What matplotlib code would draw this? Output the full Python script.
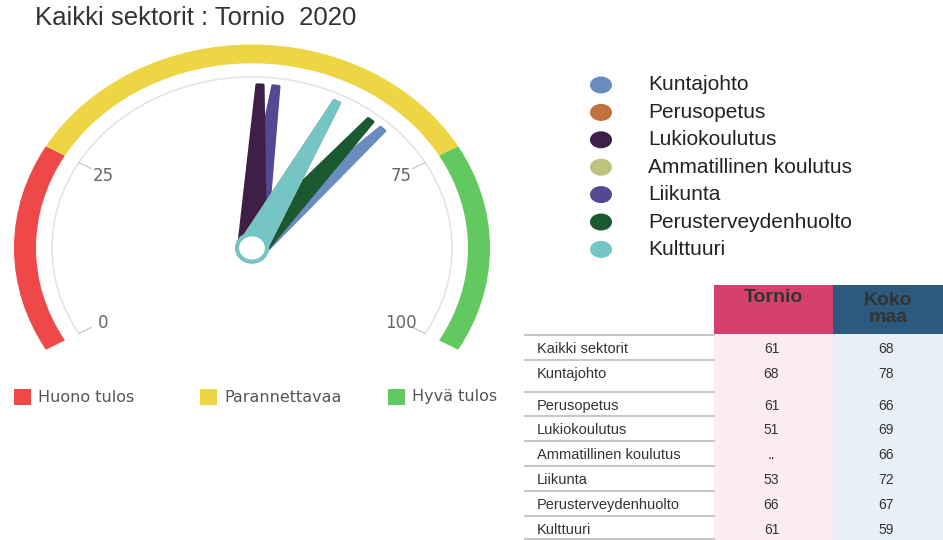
import numpy as np
import matplotlib.pyplot as plt
from matplotlib.patches import Wedge, Polygon, Ellipse, Rectangle, Arc

# Data
sectors = ["Kuntajohto", "Perusopetus", "Lukiokoulutus", "Ammatillinen koulutus",
           "Liikunta", "Perusterveydenhuolto", "Kulttuuri"]
tornio = [68, 61, 51, None, 53, 66, 61]
koko_maa = [78, 66, 69, 66, 72, 67, 59]
all_label = "Kaikki sektorit"
all_tornio = 61
all_koko = 68
colors = ["#6b8cbf", "#c0713d", "#3e1f48", "#bcc47e", "#554893", "#1b5a30", "#74c5c3"]

bands = [(0, 25, "#ef4848", "Huono tulos"),
         (25, 75, "#eed544", "Parannettavaa"),
         (75, 100, "#62c960", "Hyvä tulos")]
tick_values = [0, 25, 75, 100]

W, H = 943, 540
fig = plt.figure(figsize=(W / 100, H / 100), dpi=100)


def val2ang(v):
    # 0 -> 210 deg, 100 -> -30 deg
    return 210 - 2.4 * v


# gauge axes: 200 px per unit horizontally, 171 px per unit vertically
cx, cy, sx, sy = 252, 248, 200, 171
x0, x1, y0, y1 = -1.25, 1.25, -0.6, 1.25
gax = fig.add_axes([(cx + x0 * sx) / W, 1 - (cy - y0 * sy) / H,
                    (x1 - x0) * sx / W, (y1 - y0) * sy / H])
gax.set_xlim(x0, x1)
gax.set_ylim(y0, y1)
gax.axis('off')

# colour bands
for lo, hi, c, _ in bands:
    gax.add_patch(Wedge((0, 0), 1.19, val2ang(hi), val2ang(lo), width=0.11,
                        facecolor=c, edgecolor='none'))

# thin gray scale arc
gax.add_patch(Arc((0, 0), 2.0, 2.0, theta1=val2ang(100), theta2=val2ang(0),
                  color='#e4e4e4', lw=1.2))
for v in tick_values:
    a = np.radians(val2ang(v))
    gax.plot([0.93 * np.cos(a), 1.0 * np.cos(a)], [0.93 * np.sin(a), 1.0 * np.sin(a)],
             color='#cccccc', lw=1)
    gax.text(0.86 * np.cos(a), 0.86 * np.sin(a) - 0.01, str(v), ha='center', va='center',
             fontsize=12, color='#666666', family='DejaVu Sans')

# needles (back to front)
draw_order = [0, 5, 4, 2, 1, 6]
for i in draw_order:
    v, c = tornio[i], colors[i]
    if v is None:
        continue
    a = np.radians(val2ang(v))
    ux, uy = np.cos(a), np.sin(a)
    px, py = -uy, ux
    L, bw, tw = 0.955, 0.068, 0.016
    pts = [(bw * px, bw * py), (L * ux + tw * px, L * uy + tw * py),
           (L * ux - tw * px, L * uy - tw * py), (-bw * px, -bw * py)]
    gax.add_patch(Polygon(pts, closed=True, facecolor=c, edgecolor=c, lw=2,
                          joinstyle='round'))

gax.add_patch(Ellipse((0, 0), 0.15, 0.16, facecolor='white', edgecolor=colors[-1], lw=3))

# overlay axes in pixel coordinates for title, legends and table
ax = fig.add_axes([0, 0, 1, 1])
ax.set_xlim(0, W)
ax.set_ylim(H, 0)
ax.axis('off')

ax.text(35, 18, "Kaikki sektorit : Tornio  2020", fontsize=18.5, color='#333333',
        family='Liberation Sans', va='center', ha='left')

# band legend
for (lo, hi, c, lab), lx in zip(bands, [14, 200, 388]):
    ax.add_patch(Rectangle((lx, 389), 17, 16, facecolor=c, edgecolor='none'))
    ax.text(lx + 24, 397, lab, fontsize=11.5, color='#555555', va='center',
            family='DejaVu Sans')

# series legend
for i, (name, c) in enumerate(zip(sectors, colors)):
    y = 85 + i * 27.4
    ax.add_patch(Ellipse((601, y), 22, 17, facecolor=c, edgecolor='none'))
    ax.text(648, y, name, fontsize=15, color='#222222', va='center',
            family='Liberation Sans')

# table
col_l, col_t, col_k, col_r = 525, 714, 833, 943
head_top, head_bot = 285, 334
ax.add_patch(Rectangle((col_t, head_top), col_k - col_t, head_bot - head_top,
                       facecolor='#d5416f', edgecolor='none'))
ax.add_patch(Rectangle((col_k, head_top), col_r - col_k, head_bot - head_top,
                       facecolor='#2b5a7e', edgecolor='none'))
ax.text((col_t + col_k) / 2, 298, "Tornio", ha='center', va='center', fontsize=14,
        fontweight='bold', color='#333333', family='Liberation Sans')
ax.text((col_k + col_r) / 2, 309, "Koko\nmaa", ha='center', va='center', fontsize=14,
        fontweight='bold', color='#333333', family='Liberation Sans', linespacing=1.05)

row_labels = [all_label] + sectors
row_tornio = [all_tornio] + tornio
row_koko = [all_koko] + koko_maa
bounds = [335, 360, 392, 416, 441, 466, 491, 516, 540]
ax.add_patch(Rectangle((col_t, head_bot), col_k - col_t, H - head_bot,
                       facecolor='#fbecf1', edgecolor='none'))
ax.add_patch(Rectangle((col_k, head_bot), col_r - col_k, H - head_bot,
                       facecolor='#e8eff6', edgecolor='none'))
for j, (lab, t, k) in enumerate(zip(row_labels, row_tornio, row_koko)):
    top = bounds[j]
    ax.plot([col_l, col_t], [top, top], color='#c8c8c8', lw=1.5)
    yc = top + 14
    ax.text(537, yc, lab, fontsize=10.5, color='#333333', va='center',
            family='Liberation Sans')
    ax.text((col_t + col_k) / 2 - 2, yc, ".." if t is None else str(t), fontsize=10,
            color='#333333', va='center', ha='center', family='Liberation Sans')
    ax.text((col_k + col_r) / 2 - 2, yc, str(k), fontsize=10,
            color='#333333', va='center', ha='center', family='Liberation Sans')
ax.plot([col_l, col_t], [bounds[-1] - 1, bounds[-1] - 1], color='#c8c8c8', lw=1.5)

fig.savefig("out.png", dpi=100)
